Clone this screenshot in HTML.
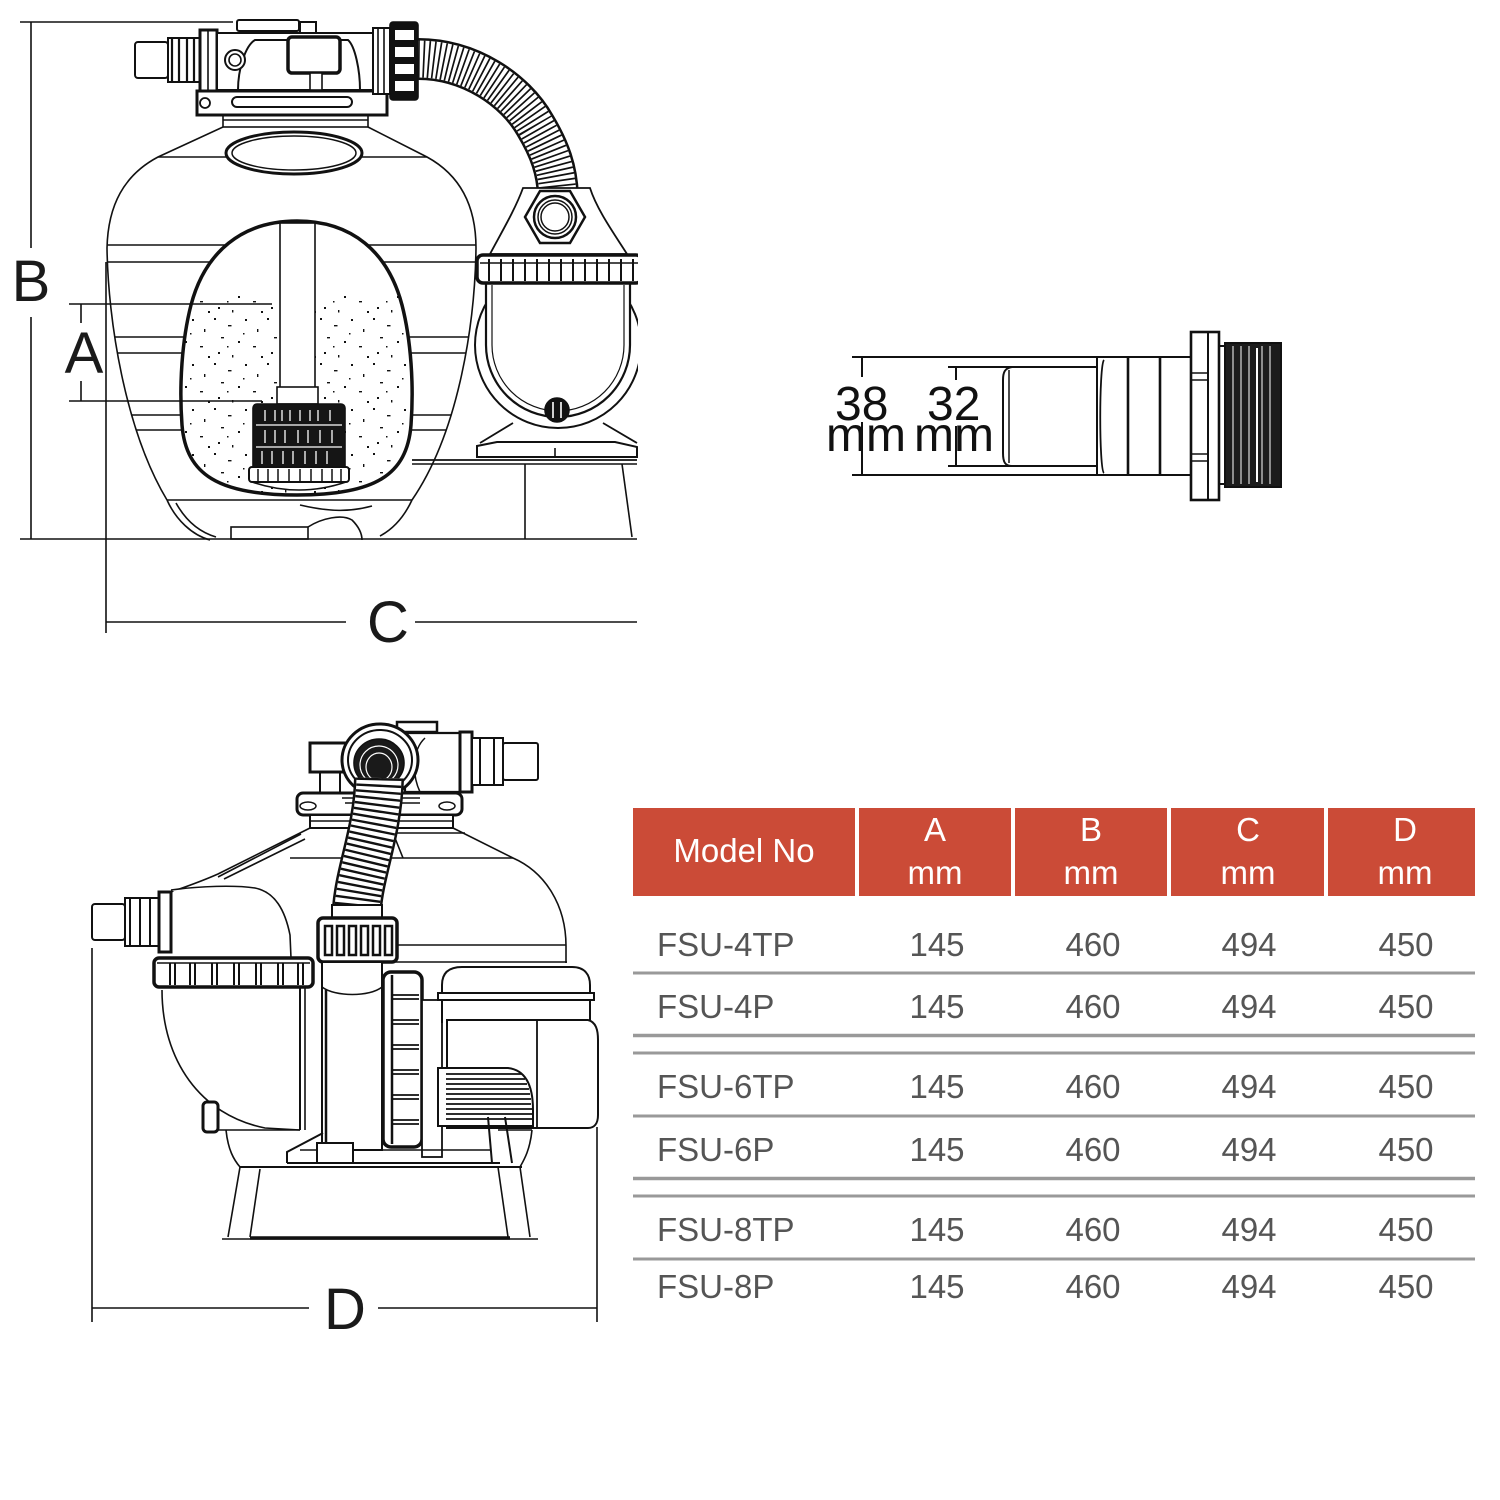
<!DOCTYPE html>
<html><head><meta charset="utf-8"><style>
html,body{margin:0;padding:0;background:#fff;}
svg{display:block;}
text{font-family:"Liberation Sans",Arial,sans-serif;}
</style></head><body>
<svg width="1500" height="1500" viewBox="0 0 1500 1500" xmlns="http://www.w3.org/2000/svg">
<defs>
 <clipPath id="tankclip"><path d="M223,127 L158,157 C124,175 108,205 107,248 C108,320 125,430 167,500 L412,500 C460,430 475,320 476,248 C476,205 460,175 427,157 L368,127 Z"/></clipPath>
 <clipPath id="eggclip"><path d="M297,221 C352,221 388,252 402,305 C411,340 414,385 411,425 C407,475 375,495 297,495 C219,495 186,475 182,425 C179,385 182,340 191,305 C205,252 242,221 297,221 Z"/></clipPath>
 <clipPath id="cut"><rect x="0" y="0" width="638" height="660"/></clipPath>
 <pattern id="sand" width="53" height="45" patternUnits="userSpaceOnUse">
  <g fill="#111">
  <rect x="2" y="3" width="2" height="2"/><rect x="16" y="10" width="3.5" height="1.4"/>
  <rect x="33" y="4" width="2" height="2"/><rect x="45" y="14" width="1.4" height="3"/>
  <rect x="9" y="22" width="3" height="1.4"/><rect x="26" y="26" width="2" height="2"/>
  <rect x="41" y="31" width="3" height="1.4"/><rect x="6" y="37" width="2" height="2"/>
  <rect x="20" y="40" width="1.4" height="2.5"/><rect x="49" y="41" width="2" height="2"/>
  <rect x="31" y="18" width="1.5" height="1.5"/><rect x="15" y="31" width="1.5" height="1.5"/>
  </g>
 </pattern>
</defs>

<!-- ================= TOP DRAWING ================= -->
<g stroke="#111" fill="none" stroke-width="1.6" clip-path="url(#cut)">
 <line x1="20" y1="22" x2="233" y2="22"/>
 <line x1="20" y1="539" x2="637" y2="539"/>
 <line x1="31" y1="22" x2="31" y2="248"/>
 <line x1="31" y1="317" x2="31" y2="539"/>
 <line x1="81" y1="304" x2="81" y2="323"/>
 <line x1="81" y1="381" x2="81" y2="401"/>
 <line x1="106" y1="262" x2="106" y2="633"/>
 <line x1="106" y1="622" x2="346" y2="622"/>
 <line x1="415" y1="622" x2="637" y2="622"/>

 <path d="M223,127 L158,157 C124,175 108,205 107,248 C108,320 125,430 167,500" />
 <path d="M368,127 L427,157 C460,175 476,205 476,248 C475,320 460,430 412,500" />
 <g clip-path="url(#tankclip)">
  <line x1="100" y1="157" x2="480" y2="157"/>
  <line x1="100" y1="245" x2="480" y2="245"/>
  <line x1="100" y1="262" x2="480" y2="262"/>
  <line x1="100" y1="337" x2="480" y2="337"/>
  <line x1="100" y1="353" x2="480" y2="353"/>
  <line x1="100" y1="415" x2="480" y2="415"/>
  <line x1="100" y1="430" x2="480" y2="430"/>
 </g>
 <line x1="167" y1="500" x2="412" y2="500"/>
 <path d="M167,500 C176,520 192,535 210,540"/>
 <path d="M176,503 C186,521 199,532 216,537"/>
 <rect x="231" y="527" width="77" height="12"/>
 <path d="M308,527 C322,518 342,514 352,520 C360,528 362,535 362,540"/>
 <path d="M412,500 C405,515 395,528 380,536"/>
 <path d="M300,505 C330,512 350,512 372,506"/>

 <rect x="223" y="115" width="145" height="12" fill="#fff"/>
 <line x1="223" y1="120" x2="368" y2="120"/>
 <ellipse cx="294" cy="153" rx="68" ry="21" fill="#fff" stroke-width="3"/>
 <ellipse cx="294" cy="153" rx="62" ry="17" stroke-width="1.5"/>

 <path d="M297,221 C352,221 388,252 402,305 C411,340 414,385 411,425 C407,475 375,495 297,495 C219,495 186,475 182,425 C179,385 182,340 191,305 C205,252 242,221 297,221 Z" fill="#fff" stroke="none"/>
 <rect x="175" y="296" width="245" height="205" fill="url(#sand)" stroke="none" clip-path="url(#eggclip)"/>
 <path d="M297,221 C352,221 388,252 402,305 C411,340 414,385 411,425 C407,475 375,495 297,495 C219,495 186,475 182,425 C179,385 182,340 191,305 C205,252 242,221 297,221 Z" stroke-width="3.5"/>
 <rect x="280" y="223" width="35" height="165" fill="#fff"/>
 <rect x="277" y="387" width="41" height="17" fill="#fff"/>
 <rect x="253" y="404" width="92" height="66" rx="4" fill="#151515"/>
 <g stroke="#fff" stroke-width="1.3">
  <line x1="256" y1="425" x2="342" y2="425"/>
  <line x1="256" y1="447" x2="342" y2="447"/>
  <path d="M265,410V421M275,410V421M282,410V421M290,410V421M300,410V421M310,410V421M318,410V421M330,410V421
           M265,430V443M275,430V443M285,430V443M298,430V443M308,430V443M320,430V443M332,430V443
           M262,451V464M272,451V464M283,451V464M293,451V464M305,451V464M316,451V464M327,451V464"/>
 </g>
 <rect x="249" y="467" width="100" height="15" rx="3" fill="#fff" stroke-width="2"/>
 <path d="M258,469V482M268,469V482M278,469V482M289,469V482M300,469V482M311,469V482M322,469V482M332,469V482M341,469V482" stroke-width="1.5"/>
 <path d="M252,482 Q299,498 346,482"/>
 <line x1="69" y1="304" x2="272" y2="304"/>
 <line x1="69" y1="401" x2="262" y2="401"/>

 <rect x="135" y="42" width="33" height="36" rx="3" fill="#fff" stroke-width="2"/>
 <rect x="168" y="38" width="32" height="44" fill="#fff" stroke-width="2"/>
 <path d="M172,38V82M179,38V82M187,38V82M194,38V82" stroke-width="2.2"/>
 <rect x="200" y="30" width="17" height="63" fill="#fff" stroke-width="3"/>
 <line x1="208" y1="30" x2="208" y2="93"/>
 <rect x="217" y="33" width="156" height="57" fill="#fff" stroke-width="2"/>
 <path d="M238,90 C238,70 245,46 255,40 L348,40 C355,46 360,70 360,90" stroke-width="2"/>
 <rect x="237" y="20" width="62" height="11" rx="2" fill="#fff" stroke-width="2"/>
 <rect x="300" y="22" width="16" height="11" fill="#fff" stroke-width="2"/>
 <circle cx="235" cy="60" r="10" stroke-width="2" fill="#fff"/>
 <circle cx="235" cy="60" r="6"/>
 <rect x="288" y="37" width="52" height="36" rx="4" fill="#fff" stroke-width="3.5"/>
 <rect x="310" y="73" width="12" height="17" fill="#fff"/>
 <rect x="197" y="91" width="190" height="24" fill="#fff" stroke-width="3"/>
 <rect x="232" y="97" width="120" height="10" rx="5" stroke-width="2"/>
 <circle cx="205" cy="103" r="5" stroke-width="1.8"/>
 <rect x="373" y="28" width="17" height="66" fill="#fff" stroke-width="2"/>
 <path d="M378,28V94M384,28V94"/>
 <rect x="390" y="22" width="28" height="78" rx="3" fill="#111"/>
 <g fill="#fff" stroke="none">
  <rect x="395" y="30" width="19" height="10"/><rect x="395" y="47" width="19" height="10"/>
  <rect x="395" y="64" width="19" height="10"/><rect x="395" y="81" width="19" height="10"/>
 </g>

 <path d="M418,59 C470,59 515,90 535,125 C550,150 557,170 558,196" stroke-width="42"/>
 <path d="M418,59 C470,59 515,90 535,125 C550,150 557,170 558,196" stroke="#fff" stroke-width="37"/>
 <path d="M418,59 C470,59 515,90 535,125 C550,150 557,170 558,196" stroke-width="37" stroke-dasharray="1.7 3.3"/>

 <path d="M523,188 C515,210 500,235 490,254 L627,254 C615,235 597,210 590,188 Z" fill="#fff" stroke-width="1.8"/>
 <polygon points="585,217 570,243 540,243 525,217 540,191 570,191" fill="#fff" stroke-width="2.5"/>
 <circle cx="555" cy="217" r="21" stroke-width="2.5"/>
 <circle cx="555" cy="217" r="17" stroke-width="1.5"/>
 <circle cx="555" cy="217" r="14" stroke-width="1.5"/>

 <circle cx="558" cy="345" r="83" fill="#fff" stroke-width="2"/>
 <path d="M486,282 L486,345 A72,72 0 0 0 630,345 L630,282" fill="#fff" stroke-width="2.2"/>
 <path d="M492,285 L492,345 A66,66 0 0 0 624,345 L624,285" stroke-width="1.2"/>
 <rect x="477" y="255" width="165" height="28" rx="6" fill="#fff" stroke-width="3.5"/>
 <path d="M489,259V281M501,259V281M513,259V281M525,259V281M537,259V281M549,259V281M561,259V281M573,259V281M585,259V281M597,259V281M609,259V281M621,259V281M633,259V281" stroke-width="2"/>
 <line x1="480" y1="263" x2="640" y2="263" stroke-width="1.5"/>
 <circle cx="557" cy="410" r="12" fill="#111"/>
 <path d="M553,402V418M561,402V418" stroke="#fff" stroke-width="1.6"/>
 <path d="M513,423 L480,443 M603,423 L637,443" stroke-width="1.8"/>
 <path d="M477,457 L477,446 L497,442 L615,442 L637,447 L637,457 Z" fill="#fff" stroke-width="2"/>
 <line x1="555" y1="448" x2="555" y2="457"/>
 <line x1="412" y1="460" x2="637" y2="460" stroke-width="1.8"/>
 <line x1="412" y1="464" x2="637" y2="464"/>
 <line x1="525" y1="464" x2="525" y2="539"/>
 <line x1="622" y1="464" x2="632" y2="537"/>
</g>
<g fill="#1a1a1a" font-size="58">
 <text x="31" y="301" text-anchor="middle">B</text>
 <text x="84" y="373" text-anchor="middle">A</text>
 <text x="388" y="642" text-anchor="middle">C</text>
</g>

<!-- ================= FITTING ================= -->
<g stroke="#111" fill="none" stroke-width="2">
 <line x1="852" y1="357" x2="1190" y2="357"/>
 <line x1="852" y1="475" x2="1190" y2="475"/>
 <line x1="862" y1="357" x2="862" y2="377"/>
 <line x1="862" y1="422" x2="862" y2="475"/>
 <line x1="948" y1="367" x2="1097" y2="367"/>
 <line x1="948" y1="466" x2="1097" y2="466"/>
 <line x1="956" y1="367" x2="956" y2="380"/>
 <line x1="956" y1="426" x2="956" y2="466"/>
 <path d="M1012,367 C1005,368 1003,372 1003,380 L1003,453 C1003,462 1005,466 1012,466"/>
 <line x1="1009" y1="370" x2="1009" y2="463" stroke-width="1.5"/>
 <line x1="1097" y1="357" x2="1097" y2="475"/>
 <path d="M1104,360 C1099,365 1099,470 1104,473" stroke-width="1.8"/>
 <line x1="1128" y1="357" x2="1128" y2="475" stroke-width="2.6"/>
 <line x1="1160" y1="357" x2="1160" y2="475" stroke-width="2.6"/>
 <rect x="1191" y="332" width="28" height="168" stroke-width="2.6"/>
 <line x1="1208" y1="332" x2="1208" y2="500"/>
 <path d="M1191,373H1208M1191,380H1208M1191,454H1208M1191,461H1208" stroke-width="1.6"/>
 <rect x="1219" y="346" width="6" height="138"/>
 <rect x="1225" y="343" width="56" height="144" fill="#1c1c1c"/>
 <path d="M1233,346V484M1241,346V484M1249,346V484M1262,346V484M1270,346V484" stroke="#fff" stroke-width="1"/>
 <line x1="1257" y1="348" x2="1257" y2="482" stroke="#fff" stroke-width="2"/>
</g>
<g fill="#111" font-size="48">
 <text x="835" y="420">38</text>
 <text x="826" y="451">mm</text>
 <text x="927" y="420">32</text>
 <text x="914" y="451">mm</text>
</g>

<!-- ================= BOTTOM DRAWING ================= -->
<g stroke="#111" fill="none" stroke-width="1.6">
 <line x1="92" y1="948" x2="92" y2="1322"/>
 <line x1="597" y1="1127" x2="597" y2="1322"/>
 <line x1="92" y1="1308" x2="309" y2="1308"/>
 <line x1="378" y1="1308" x2="597" y2="1308"/>

 <path d="M310,828 L218,874 C200,882 185,887 171,892"/>
 <path d="M218,877 L301,834" />
 <path d="M224,879 L305,839"/>
 <path d="M453,828 L513,858 C545,872 566,905 566,946 L566,963"/>
 <line x1="290" y1="858" x2="513" y2="858"/>
 <path d="M393,833 L465,833 M393,833 L403,858"/>
 <line x1="397" y1="945" x2="566" y2="945"/>
 <line x1="393" y1="962" x2="567" y2="962"/>

 <rect x="320" y="772" width="20" height="21" fill="#fff" stroke-width="2"/>
 <rect x="310" y="743" width="37" height="29" fill="#fff" stroke-width="3"/>
 <rect x="397" y="722" width="40" height="10" fill="#fff" stroke-width="2.5"/>
 <path d="M405,733 L460,733 L460,792 L405,792 Z" fill="#fff" stroke-width="2.2"/>
 <path d="M420,792 C412,775 412,750 425,738" stroke-width="1.5"/>
 <rect x="460" y="732" width="12" height="60" fill="#fff" stroke-width="3"/>
 <rect x="472" y="738" width="31" height="47" fill="#fff" stroke-width="2"/>
 <path d="M480,738V785M494,738V785" stroke-width="2"/>
 <rect x="503" y="743" width="35" height="37" rx="2" fill="#fff" stroke-width="2"/>
 <rect x="297" y="793" width="165" height="22" rx="6" fill="#fff" stroke-width="3"/>
 <ellipse cx="308" cy="806" rx="8" ry="4" stroke-width="1.5"/>
 <ellipse cx="447" cy="806" rx="8" ry="4" stroke-width="1.5"/>
 <path d="M342,798H420M345,803H420" stroke-width="1.5"/>
 <rect x="310" y="815" width="143" height="13" fill="#fff" stroke-width="2"/>
 <line x1="310" y1="821" x2="453" y2="821"/>
 <ellipse cx="380" cy="760" rx="38" ry="36" fill="#fff" stroke-width="3"/>
 <ellipse cx="380" cy="760" rx="32" ry="30" stroke-width="2"/>
 <ellipse cx="379" cy="763" rx="25" ry="24" fill="#1a1a1a"/>
 <ellipse cx="379" cy="765" rx="19" ry="19" stroke="#fff" stroke-width="1.2"/>
 <ellipse cx="379" cy="767" rx="13" ry="14" stroke="#fff" stroke-width="1.2"/>
 <path d="M379,778 C378,830 360,870 357,908" stroke-width="50"/>
 <path d="M379,778 C378,830 360,870 357,908" stroke="#fff" stroke-width="45"/>
 <path d="M379,778 C378,830 360,870 357,908" stroke-width="45" stroke-dasharray="2.4 4"/>
 <rect x="332" y="905" width="50" height="13" fill="#fff" stroke-width="2"/>
 <rect x="318" y="918" width="79" height="44" rx="5" fill="#fff" stroke-width="3.5"/>
 <g fill="#fff" stroke-width="2.5">
  <rect x="325" y="926" width="7" height="29"/><rect x="337" y="926" width="7" height="29"/>
  <rect x="349" y="926" width="7" height="29"/><rect x="361" y="926" width="7" height="29"/>
  <rect x="373" y="926" width="7" height="29"/><rect x="385" y="926" width="7" height="29"/>
 </g>

 <path d="M171,890 C200,886 235,885 255,888 C275,892 285,910 290,935 L291,958" fill="#fff"/>
 <rect x="92" y="904" width="33" height="36" rx="3" fill="#fff" stroke-width="2"/>
 <rect x="125" y="898" width="34" height="48" fill="#fff" stroke-width="2"/>
 <path d="M130,898V946M140,898V946M150,898V946" stroke-width="2"/>
 <rect x="159" y="892" width="12" height="60" fill="#fff" stroke-width="3"/>

 <rect x="322" y="962" width="60" height="188" fill="#fff" stroke-width="2"/>
 <path d="M322,987 C335,997 370,997 382,987" stroke-width="1.5"/>
 <line x1="326" y1="990" x2="326" y2="1150" stroke-width="2.5"/>

 <path d="M162,990 C162,1060 200,1115 265,1128 L300,1130" fill="#fff"/>
 <line x1="300" y1="987" x2="300" y2="1130" stroke-width="2"/>
 <line x1="305" y1="987" x2="305" y2="1130"/>
 <rect x="154" y="958" width="159" height="29" rx="5" fill="#fff" stroke-width="3.5"/>
 <line x1="157" y1="963" x2="310" y2="963" stroke-width="1.5"/>
 <path d="M170,963V985M175,963V985M190,963V985M195,963V985M212,963V985M217,963V985M234,963V985M239,963V985M256,963V985M261,963V985M278,963V985M283,963V985M298,963V985M303,963V985" stroke-width="2"/>
 <rect x="203" y="1102" width="15" height="30" rx="4" fill="#fff" stroke-width="3"/>
 <line x1="218" y1="1130" x2="300" y2="1130"/>

 <rect x="383" y="972" width="39" height="175" rx="8" fill="#fff" stroke-width="3.5"/>
 <line x1="392" y1="975" x2="392" y2="1144" stroke-width="2.5"/>
 <path d="M392,995H419M392,999H419M392,1020H419M392,1024H419M392,1045H419M392,1049H419M392,1070H419M392,1074H419M392,1095H419M392,1099H419M392,1120H419M392,1124H419" stroke-width="1.8"/>
 <rect x="422" y="1000" width="20" height="157" fill="#fff" stroke-width="1.8"/>

 <path d="M442,1023 L442,985 C442,972 450,967 462,967 L572,967 C585,967 590,975 590,985 L590,1023" fill="#fff" stroke-width="2"/>
 <rect x="438" y="993" width="156" height="7" fill="#fff" stroke-width="2"/>
 <path d="M447,1020 L588,1020 C596,1022 598,1030 598,1040 L598,1115 C598,1124 594,1128 588,1128 L447,1128 Z" fill="#fff" stroke-width="2"/>
 <line x1="537" y1="1020" x2="537" y2="1128" stroke-width="1.8"/>
 <path d="M438,1068 L508,1068 C525,1070 533,1085 533,1110 L533,1126 L438,1126 Z" fill="#fff" stroke-width="2"/>
 <path d="M446,1074H522M446,1079H525M446,1084H527M446,1089H529M446,1094H530M446,1099H531M446,1104H531M446,1109H532M446,1114H532M446,1119H532" stroke-width="1.7"/>

 <path d="M226,1130 C228,1150 234,1160 240,1167"/>
 <path d="M532,1130 C530,1150 524,1160 520,1167"/>
 <line x1="498" y1="1130" x2="532" y2="1130"/>
 <path d="M287,1163 L287,1152 L323,1133" stroke-width="2"/>
 <line x1="287" y1="1163" x2="500" y2="1163" stroke-width="2"/>
 <line x1="300" y1="1150" x2="490" y2="1150"/>
 <rect x="317" y="1143" width="36" height="20" fill="#fff" stroke-width="2"/>
 <path d="M488,1117 L492,1163 M505,1117 L512,1163" stroke-width="2"/>
 <line x1="240" y1="1167" x2="522" y2="1167" stroke-width="2"/>
 <line x1="240" y1="1167" x2="228" y2="1237"/>
 <line x1="260" y1="1169" x2="250" y2="1237"/>
 <line x1="498" y1="1167" x2="508" y2="1237"/>
 <line x1="520" y1="1167" x2="530" y2="1237"/>
 <line x1="222" y1="1239" x2="538" y2="1239"/>
 <line x1="250" y1="1238" x2="510" y2="1238" stroke-width="3.5"/>
</g>
<text x="345" y="1329" text-anchor="middle" font-size="58" fill="#1a1a1a">D</text>

<!-- ================= TABLE ================= -->
<g fill="#cb4b37">
 <rect x="633" y="808" width="222" height="88"/>
 <rect x="859" y="808" width="152" height="88"/>
 <rect x="1015" y="808" width="152" height="88"/>
 <rect x="1171" y="808" width="153" height="88"/>
 <rect x="1328" y="808" width="147" height="88"/>
</g>
<g fill="#fff" font-size="33" text-anchor="middle">
 <text x="744" y="862">Model No</text>
 <text x="935" y="841">A</text><text x="935" y="884">mm</text>
 <text x="1091" y="841">B</text><text x="1091" y="884">mm</text>
 <text x="1248" y="841">C</text><text x="1248" y="884">mm</text>
 <text x="1405" y="841">D</text><text x="1405" y="884">mm</text>
</g>
<g stroke="#999" stroke-width="3">
 <line x1="633" y1="973" x2="1475" y2="973"/>
 <line x1="633" y1="1035.5" x2="1475" y2="1035.5" stroke-width="3.5"/>
 <line x1="633" y1="1053" x2="1475" y2="1053"/>
 <line x1="633" y1="1116" x2="1475" y2="1116"/>
 <line x1="633" y1="1178.5" x2="1475" y2="1178.5" stroke-width="3.5"/>
 <line x1="633" y1="1196" x2="1475" y2="1196"/>
 <line x1="633" y1="1259" x2="1475" y2="1259"/>
</g>
<g fill="#555" font-size="33">
 <text x="657" y="956">FSU-4TP</text>
 <text x="657" y="1018">FSU-4P</text>
 <text x="657" y="1098">FSU-6TP</text>
 <text x="657" y="1161">FSU-6P</text>
 <text x="657" y="1241">FSU-8TP</text>
 <text x="657" y="1298">FSU-8P</text>
</g>
<g fill="#555" font-size="33" text-anchor="middle">
 <text x="937" y="956">145</text><text x="1093" y="956">460</text><text x="1249" y="956">494</text><text x="1406" y="956">450</text>
 <text x="937" y="1018">145</text><text x="1093" y="1018">460</text><text x="1249" y="1018">494</text><text x="1406" y="1018">450</text>
 <text x="937" y="1098">145</text><text x="1093" y="1098">460</text><text x="1249" y="1098">494</text><text x="1406" y="1098">450</text>
 <text x="937" y="1161">145</text><text x="1093" y="1161">460</text><text x="1249" y="1161">494</text><text x="1406" y="1161">450</text>
 <text x="937" y="1241">145</text><text x="1093" y="1241">460</text><text x="1249" y="1241">494</text><text x="1406" y="1241">450</text>
 <text x="937" y="1298">145</text><text x="1093" y="1298">460</text><text x="1249" y="1298">494</text><text x="1406" y="1298">450</text>
</g>
</svg>
</body></html>
